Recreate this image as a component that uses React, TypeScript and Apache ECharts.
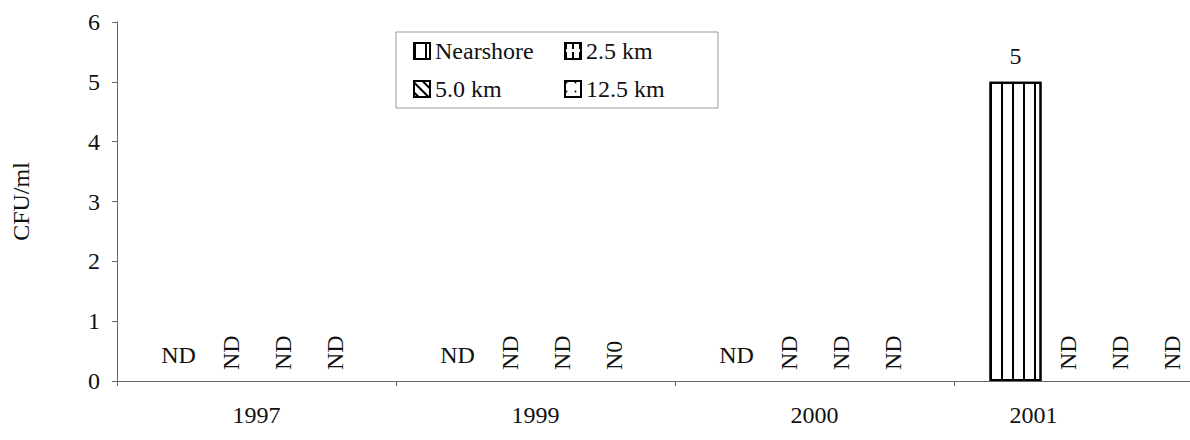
import React, { useEffect, useRef } from "react";
import * as echarts from "echarts";

const categories = ["1997", "1999", "2000", "2001"];
const seriesNames = ["Nearshore", "2.5 km", "5.0 km", "12.5 km"];
const nearshore = [0, 0, 0, 5];
const km25 = [0, 0, 0, 0];
const km50 = [0, 0, 0, 0];
const km125 = [0, 0, 0, 0];
const nearshoreLabels = ["ND", "ND", "ND", "5"];
const km25Labels = ["ND", "ND", "ND", "ND"];
const km50Labels = ["ND", "ND", "ND", "ND"];
const km125Labels = ["ND", "N0", "ND", "ND"];
const yTicks = [0, 1, 2, 3, 4, 5, 6];

const FONT = "'Liberation Serif', 'Times New Roman', serif";
const TXT = "#111";

export default function App() {
  const ref = useRef<HTMLDivElement>(null);
  useEffect(() => {
    document.body.style.margin = "0";
    const chart = echarts.init(ref.current!, undefined, { renderer: "svg" });

    const decals = [
      { symbol: "rect", symbolSize: 1, color: "#000", dashArrayX: [2, 9], dashArrayY: [5, 0] },
      { symbol: "rect", symbolSize: 1, color: "#000", dashArrayX: [2, 5], dashArrayY: [6, 3] },
      { symbol: "rect", symbolSize: 1, color: "#000", dashArrayX: [1, 0], dashArrayY: [2, 5], rotation: Math.PI / 4 },
      { symbol: "circle", symbolSize: 0.6, color: "#000", dashArrayX: [3, 6], dashArrayY: [3, 6] },
    ];
    const values = [nearshore, km25, km50, km125];
    const labels = [nearshoreLabels, km25Labels, km50Labels, km125Labels];

    const series = seriesNames.map((name, i) => ({
      name,
      type: "bar",
      barWidth: 52,
      barGap: "0%",
      data: values[i].map((v) => ({
        value: v,
        itemStyle: v === 0 ? { borderWidth: 0 } : undefined,
      })),
      itemStyle: {
        color: "#fff",
        borderColor: "#000",
        borderWidth: 2,
        decal: decals[i],
      },
      label:
        i === 0
          ? {
              show: true,
              position: "top",
              distance: 14,
              fontFamily: FONT,
              fontSize: 24,
              color: TXT,
              formatter: (p: any) => labels[i][p.dataIndex],
            }
          : {
              show: true,
              position: "top",
              distance: 11,
              rotate: 90,
              align: "left",
              verticalAlign: "middle",
              fontFamily: FONT,
              fontSize: 24,
              color: TXT,
              formatter: (p: any) => labels[i][p.dataIndex],
            },
    }));

    chart.setOption({
      animation: false,
      backgroundColor: "#fff",
      grid: { left: 117, top: 22, width: 1116, height: 359, outerBoundsMode: "none", containLabel: false },
      legend: {
        data: seriesNames,
        icon: "rect",
        left: 396,
        top: 32,
        width: 290,
        padding: [7, 17, 7, 17],
        itemGap: 14,
        itemWidth: 16,
        itemHeight: 16,
        borderColor: "#999",
        borderWidth: 1,
        itemStyle: { borderColor: "#000", borderWidth: 2 },
        textStyle: {
          fontFamily: FONT,
          fontSize: 24,
          color: TXT,
          width: 115,
          lineHeight: 24,
        },
      },
      xAxis: {
        type: "category",
        data: categories,
        axisLine: { lineStyle: { color: "#666", width: 1 } },
        axisTick: { show: true, length: 5, lineStyle: { color: "#666" } },
        axisLabel: {
          margin: 22,
          fontFamily: FONT,
          fontSize: 24,
          color: TXT,
          formatter: (v: string) => (v === categories[categories.length - 1] ? `{s|${v}}` : v),
          rich: {
            s: { fontFamily: FONT, fontSize: 24, color: TXT, padding: [0, 120, 0, 0] },
          },
        },
      },
      yAxis: {
        type: "value",
        min: yTicks[0],
        max: yTicks[yTicks.length - 1],
        interval: 1,
        name: "CFU/ml",
        nameLocation: "middle",
        nameGap: 84,
        nameTextStyle: { fontFamily: FONT, fontSize: 24, color: TXT },
        axisLine: { show: true, lineStyle: { color: "#666", width: 1 } },
        axisTick: { show: true, length: 5, lineStyle: { color: "#666" } },
        splitLine: { show: false },
        axisLabel: { margin: 17, fontFamily: FONT, fontSize: 24, color: TXT },
      },
      series,
    });
    return () => chart.dispose();
  }, []);
  return <div ref={ref} style={{ width: 1190, height: 440 }} />;
}
